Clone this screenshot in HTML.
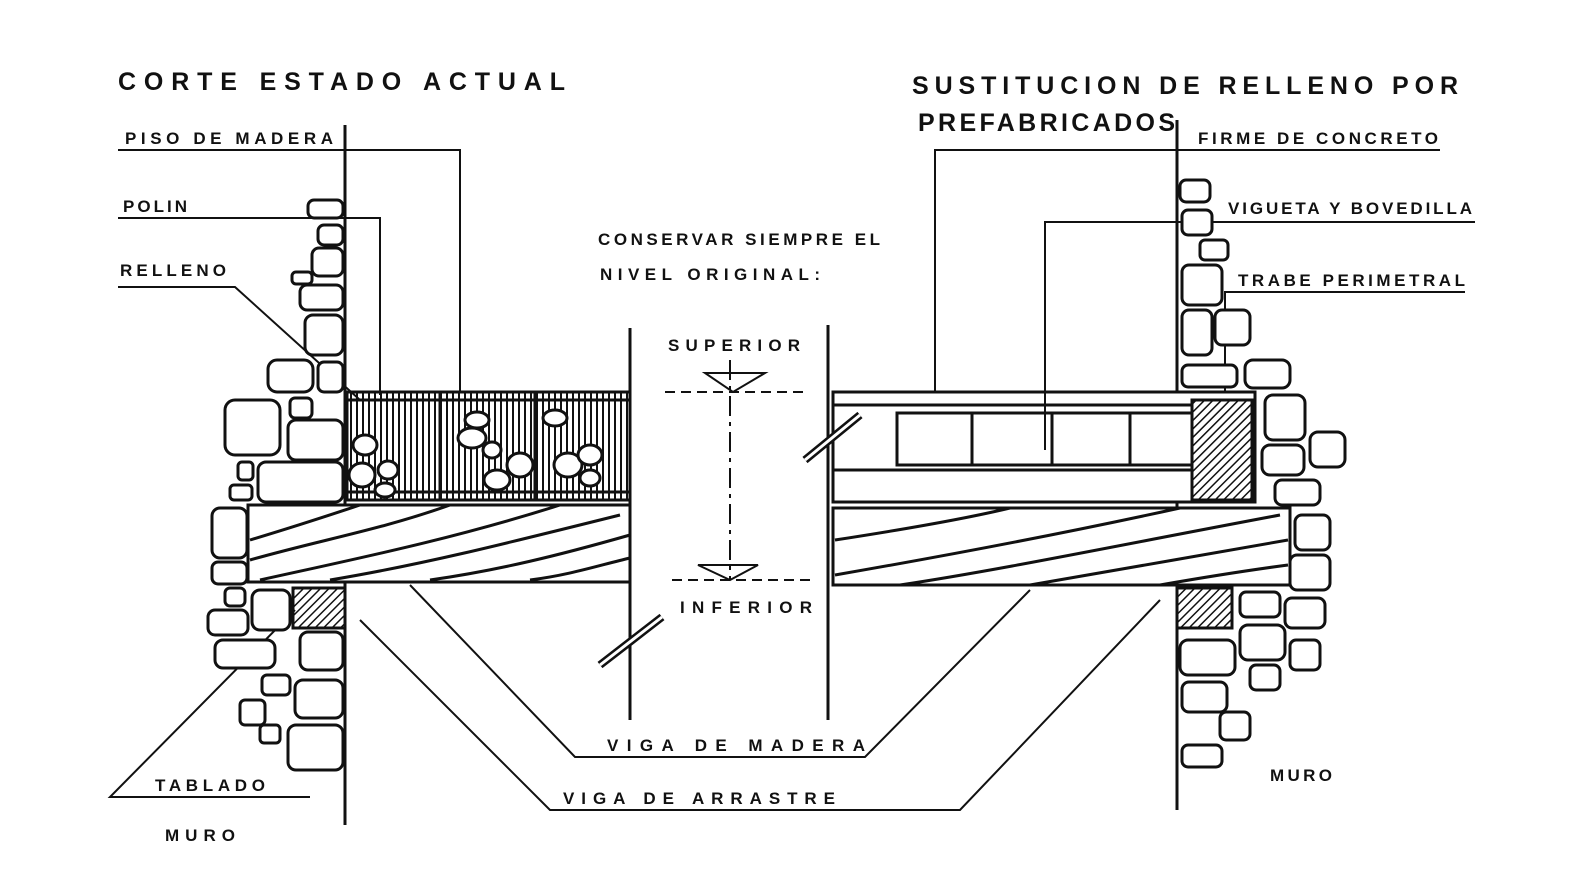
<!DOCTYPE html>
<html><head><meta charset="utf-8"><style>
html,body{margin:0;padding:0;background:#fff;}
svg{display:block}
text{font-family:"Liberation Sans",sans-serif;font-weight:bold;fill:#111;}
</style></head><body>
<svg width="1580" height="893" viewBox="0 0 1580 893" xmlns="http://www.w3.org/2000/svg">
<defs>
<pattern id="vh" width="6" height="10" patternUnits="userSpaceOnUse"><rect width="6" height="10" fill="#fff"/><line x1="3" y1="0" x2="3" y2="10" stroke="#111" stroke-width="2"/></pattern>
<pattern id="dh" width="6" height="6" patternUnits="userSpaceOnUse" patternTransform="rotate(45)"><rect width="6" height="6" fill="#fff"/><line x1="0" y1="0" x2="0" y2="6" stroke="#111" stroke-width="3"/></pattern>
</defs>
<rect width="1580" height="893" fill="#fff"/>
<text x="118" y="90" font-size="25" textLength="447" lengthAdjust="spacing">CORTE ESTADO ACTUAL</text>
<text x="912" y="94" font-size="25" textLength="546" lengthAdjust="spacing">SUSTITUCION DE RELLENO POR</text>
<text x="918" y="131" font-size="25" textLength="257" lengthAdjust="spacing">PREFABRICADOS</text>
<g font-size="17">
<text x="125" y="144" textLength="208" lengthAdjust="spacing">PISO DE MADERA</text>
<text x="123" y="212" textLength="64" lengthAdjust="spacing">POLIN</text>
<text x="120" y="276" textLength="106" lengthAdjust="spacing">RELLENO</text>
<text x="155" y="791" textLength="110" lengthAdjust="spacing">TABLADO</text>
<text x="165" y="841" textLength="70" lengthAdjust="spacing">MURO</text>
<text x="1198" y="144" textLength="240" lengthAdjust="spacing">FIRME DE CONCRETO</text>
<text x="1228" y="214" textLength="244" lengthAdjust="spacing">VIGUETA Y BOVEDILLA</text>
<text x="1238" y="286" textLength="227" lengthAdjust="spacing">TRABE PERIMETRAL</text>
<text x="598" y="245" textLength="282" lengthAdjust="spacing">CONSERVAR SIEMPRE EL</text>
<text x="600" y="280" textLength="220" lengthAdjust="spacing">NIVEL ORIGINAL:</text>
<text x="668" y="351" textLength="132" lengthAdjust="spacing">SUPERIOR</text>
<text x="680" y="613" textLength="132" lengthAdjust="spacing">INFERIOR</text>
<text x="607" y="751" textLength="258" lengthAdjust="spacing">VIGA DE MADERA</text>
<text x="563" y="804" textLength="272" lengthAdjust="spacing">VIGA DE ARRASTRE</text>
<text x="928" y="491" textLength="117" lengthAdjust="spacing">VACIO</text>
<text x="1270" y="781" textLength="62" lengthAdjust="spacing">MURO</text>
</g>
<g stroke="#111" stroke-width="3" fill="none">
<line x1="345" y1="125" x2="345" y2="825"/>
<line x1="1177" y1="120" x2="1177" y2="810"/>
<line x1="630" y1="328" x2="630" y2="720"/>
<line x1="828" y1="325" x2="828" y2="720"/>
<rect x="347" y="392" width="283" height="108" fill="url(#vh)"/>
<line x1="347" y1="400" x2="630" y2="400"/>
<line x1="347" y1="492" x2="630" y2="492"/>
<line x1="440" y1="392" x2="440" y2="500"/>
<line x1="535" y1="392" x2="535" y2="500"/>
<rect x="248" y="505" width="382" height="77" fill="#fff"/>
<path d="M250 560 C320 540,380 530,450 505 M250 540 C300 525,330 515,360 505 M260 580 C350 560,450 540,560 505 M330 580 C420 565,500 545,620 515 M430 580 C500 570,560 555,630 535 M530 580 C570 575,600 565,630 558"/>
<rect x="833" y="508" width="457" height="77" fill="#fff"/>
<path d="M835 540 C900 530,960 520,1010 508 M835 575 C950 555,1080 530,1180 508 M900 585 C1000 570,1120 545,1280 515 M1030 585 C1120 570,1200 555,1288 540 M1160 585 C1200 578,1250 570,1288 565"/>
<rect x="833" y="392" width="422" height="110" fill="#fff"/>
<line x1="833" y1="405" x2="1255" y2="405"/>
<rect x="897" y="413" width="295" height="52"/>
<line x1="972" y1="413" x2="972" y2="465"/>
<line x1="1052" y1="413" x2="1052" y2="465"/>
<line x1="1130" y1="413" x2="1130" y2="465"/>
<line x1="833" y1="470" x2="1192" y2="470"/>
<rect x="1192" y="400" width="60" height="100" fill="url(#dh)"/>
<rect x="293" y="588" width="52" height="40" fill="url(#dh)"/>
<rect x="1177" y="588" width="55" height="40" fill="url(#dh)"/>
<line x1="805" y1="460" x2="860" y2="415" stroke-width="8"/><line x1="805" y1="460" x2="860" y2="415" stroke="#fff" stroke-width="3"/>
<line x1="600" y1="665" x2="662" y2="617" stroke-width="8"/><line x1="600" y1="665" x2="662" y2="617" stroke="#fff" stroke-width="3"/>
<line x1="665" y1="392" x2="805" y2="392" stroke-dasharray="10 6" stroke-width="2"/>
<line x1="672" y1="580" x2="815" y2="580" stroke-dasharray="10 6" stroke-width="2"/>
<line x1="730" y1="360" x2="730" y2="580" stroke-dasharray="20 6 4 6" stroke-width="2"/>
<path d="M705 373 L765 373 L733 392 Z" stroke-width="2"/>
<path d="M698 565 L758 565 L730 580 Z" stroke-width="2"/>
<polyline points="118,150 460,150 460,392" stroke-width="2"/>
<polyline points="118,218 380,218 380,395" stroke-width="2"/>
<polyline points="118,287 235,287 360,400" stroke-width="2"/>
<polyline points="310,797 110,797 295,610" stroke-width="2"/>
<polyline points="1440,150 935,150 935,392" stroke-width="2"/>
<polyline points="1475,222 1045,222 1045,450" stroke-width="2"/>
<polyline points="1465,292 1225,292 1225,392" stroke-width="2"/>
<polyline points="410,585 575,757 865,757 1030,590" stroke-width="2"/>
<polyline points="360,620 550,810 960,810 1160,600" stroke-width="2"/>
</g>
<g stroke="#111" stroke-width="3" fill="#fff">
<rect x="308" y="200" width="35" height="18" rx="6"/>
<rect x="318" y="225" width="25" height="20" rx="6"/>
<rect x="312" y="248" width="31" height="28" rx="7"/>
<rect x="292" y="272" width="20" height="12" rx="4"/>
<rect x="300" y="285" width="43" height="25" rx="7"/>
<rect x="305" y="315" width="38" height="40" rx="8"/>
<rect x="268" y="360" width="45" height="32" rx="9"/>
<rect x="318" y="362" width="25" height="30" rx="6"/>
<rect x="225" y="400" width="55" height="55" rx="10"/>
<rect x="290" y="398" width="22" height="20" rx="5"/>
<rect x="288" y="420" width="55" height="40" rx="8"/>
<rect x="238" y="462" width="15" height="18" rx="4"/>
<rect x="258" y="462" width="85" height="40" rx="8"/>
<rect x="230" y="485" width="22" height="15" rx="4"/>
<rect x="212" y="508" width="35" height="50" rx="8"/>
<rect x="212" y="562" width="35" height="22" rx="6"/>
<rect x="225" y="588" width="20" height="18" rx="5"/>
<rect x="252" y="590" width="38" height="40" rx="8"/>
<rect x="208" y="610" width="40" height="25" rx="7"/>
<rect x="215" y="640" width="60" height="28" rx="8"/>
<rect x="300" y="632" width="43" height="38" rx="8"/>
<rect x="262" y="675" width="28" height="20" rx="5"/>
<rect x="295" y="680" width="48" height="38" rx="8"/>
<rect x="240" y="700" width="25" height="25" rx="5"/>
<rect x="260" y="725" width="20" height="18" rx="4"/>
<rect x="288" y="725" width="55" height="45" rx="8"/>
<rect x="1180" y="180" width="30" height="22" rx="6"/>
<rect x="1182" y="210" width="30" height="25" rx="6"/>
<rect x="1200" y="240" width="28" height="20" rx="5"/>
<rect x="1182" y="265" width="40" height="40" rx="7"/>
<rect x="1182" y="310" width="30" height="45" rx="7"/>
<rect x="1215" y="310" width="35" height="35" rx="7"/>
<rect x="1182" y="365" width="55" height="22" rx="6"/>
<rect x="1245" y="360" width="45" height="28" rx="8"/>
<rect x="1265" y="395" width="40" height="45" rx="8"/>
<rect x="1310" y="432" width="35" height="35" rx="8"/>
<rect x="1262" y="445" width="42" height="30" rx="8"/>
<rect x="1275" y="480" width="45" height="25" rx="7"/>
<rect x="1295" y="515" width="35" height="35" rx="7"/>
<rect x="1290" y="555" width="40" height="35" rx="7"/>
<rect x="1240" y="592" width="40" height="25" rx="6"/>
<rect x="1285" y="598" width="40" height="30" rx="7"/>
<rect x="1240" y="625" width="45" height="35" rx="8"/>
<rect x="1180" y="640" width="55" height="35" rx="8"/>
<rect x="1290" y="640" width="30" height="30" rx="6"/>
<rect x="1250" y="665" width="30" height="25" rx="6"/>
<rect x="1182" y="682" width="45" height="30" rx="7"/>
<rect x="1220" y="712" width="30" height="28" rx="6"/>
<rect x="1182" y="745" width="40" height="22" rx="6"/>
<ellipse cx="365" cy="445" rx="12" ry="10"/><ellipse cx="362" cy="475" rx="13" ry="12"/><ellipse cx="388" cy="470" rx="10" ry="9"/><ellipse cx="385" cy="490" rx="10" ry="7"/>
<ellipse cx="477" cy="420" rx="12" ry="8"/><ellipse cx="472" cy="438" rx="14" ry="10"/><ellipse cx="492" cy="450" rx="9" ry="8"/><ellipse cx="520" cy="465" rx="13" ry="12"/><ellipse cx="497" cy="480" rx="13" ry="10"/>
<ellipse cx="568" cy="465" rx="14" ry="12"/><ellipse cx="590" cy="455" rx="12" ry="10"/><ellipse cx="590" cy="478" rx="10" ry="8"/><ellipse cx="555" cy="418" rx="12" ry="8"/>
</g>
</svg>
</body></html>
